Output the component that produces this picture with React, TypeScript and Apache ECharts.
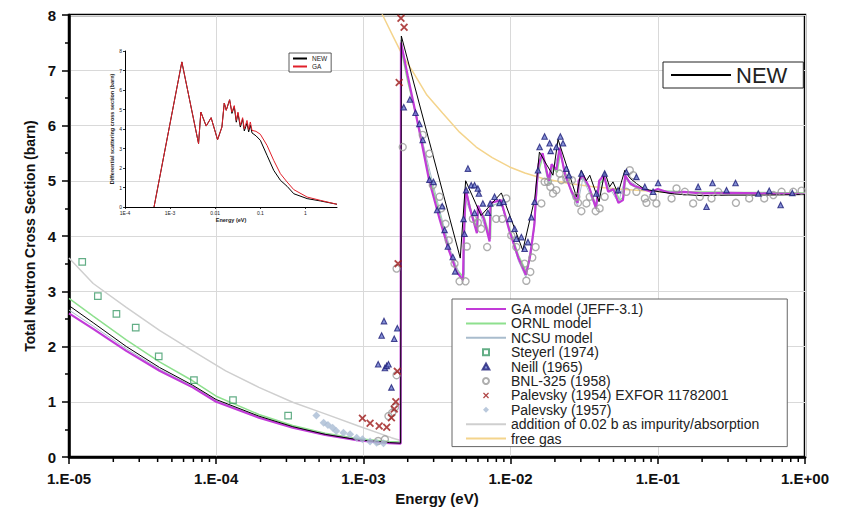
import React, { useEffect, useRef } from "react";
import * as echarts from "echarts";

type P = [number, number];

// ---------- main chart tick labels ----------
const X_TICK_LABELS = ["1.E-05", "1.E-04", "1.E-03", "1.E-02", "1.E-01", "1.E+00"];
const INSET_X_LABELS = ["1E-4", "1E-3", "0.01", "0.1", "1"];

// ---------- model curves (E in eV, sigma in barn) ----------
const GA_MODEL: P[] = [
  [1e-5, 2.6], [1.46e-5, 2.32], [2.45e-5, 1.92], [4.12e-5, 1.56], [6.92e-5, 1.26], [1e-4, 1.0],
  [1.95e-4, 0.71], [3.31e-4, 0.53], [5.5e-4, 0.4], [9.25e-4, 0.3], [1.5e-3, 0.25], [1.79e-3, 0.24],
  [1.8e-3, 7.5], [2.0e-3, 6.9], [2.4e-3, 5.9], [2.8e-3, 5.0], [3.3e-3, 4.3], [3.8e-3, 3.75],
  [4.3e-3, 3.35], [4.75e-3, 3.2], [4.8e-3, 3.9], [4.95e-3, 4.85], [5.3e-3, 4.5], [5.9e-3, 4.05],
  [6.0e-3, 4.55], [6.6e-3, 4.3], [7.2e-3, 3.9], [7.3e-3, 4.6], [8.6e-3, 4.65], [9.8e-3, 4.1],
  [0.0113, 3.6], [0.0127, 3.3], [0.0135, 3.6], [0.0145, 4.2], [0.015, 4.9], [0.0155, 5.3],
  [0.0165, 5.5], [0.0175, 5.2], [0.0182, 5.0], [0.019, 5.3], [0.0205, 5.2], [0.0215, 5.6],
  [0.0235, 5.1], [0.026, 4.8], [0.0285, 4.6], [0.029, 5.0], [0.031, 5.1], [0.034, 4.9],
  [0.037, 4.6], [0.038, 4.5], [0.04, 5.0], [0.043, 5.1], [0.046, 4.8], [0.05, 4.85],
  [0.054, 4.6], [0.058, 4.65], [0.06, 5.1], [0.065, 4.95], [0.07, 4.9], [0.08, 4.85],
  [0.09, 4.8], [0.1, 4.85], [0.12, 4.78], [0.15, 4.8], [0.2, 4.77], [0.3, 4.78], [0.5, 4.77], [1, 4.76],
];

const ORNL_MODEL: P[] = [
  [1e-5, 2.87], [1.46e-5, 2.55], [2.45e-5, 2.12], [4.12e-5, 1.72], [6.92e-5, 1.38], [1e-4, 1.1],
  [1.95e-4, 0.77], [3.31e-4, 0.57], [5.5e-4, 0.43], [9.25e-4, 0.33], [1.5e-3, 0.28], [1.79e-3, 0.27],
  [1.8e-3, 7.4], [2.0e-3, 6.8], [2.4e-3, 5.95], [2.8e-3, 5.1], [3.3e-3, 4.4], [3.8e-3, 3.8],
  [4.3e-3, 3.4], [4.8e-3, 3.25], [4.85e-3, 4.1], [5.0e-3, 4.8], [5.4e-3, 4.45], [5.95e-3, 4.1],
  [6.05e-3, 4.5], [6.6e-3, 4.35], [7.3e-3, 3.95], [7.4e-3, 4.55], [8.6e-3, 4.6], [9.8e-3, 4.15],
  [0.0113, 3.65], [0.0128, 3.35], [0.0138, 3.7], [0.0146, 4.3], [0.0152, 5.0], [0.0158, 5.25],
  [0.0166, 5.45], [0.0176, 5.1], [0.0184, 4.95], [0.0192, 5.25], [0.0207, 5.15], [0.0218, 5.5],
  [0.0238, 5.05], [0.0262, 4.8], [0.0287, 4.65], [0.0292, 5.0], [0.031, 5.05], [0.0345, 4.85],
  [0.038, 4.55], [0.0405, 4.95], [0.0435, 5.05], [0.047, 4.8], [0.051, 4.85], [0.055, 4.65],
  [0.0585, 4.7], [0.0605, 5.05], [0.066, 4.92], [0.072, 4.88], [0.082, 4.83], [0.1, 4.82],
  [0.15, 4.8], [0.3, 4.79], [1, 4.78],
];

const NCSU_MODEL: P[] = [
  [1e-5, 2.66], [1.46e-5, 2.37], [2.45e-5, 1.96], [4.12e-5, 1.59], [6.92e-5, 1.28], [1e-4, 1.02],
  [1.95e-4, 0.72], [3.31e-4, 0.54], [5.5e-4, 0.41], [9.25e-4, 0.31], [1.79e-3, 0.25],
  [1.8e-3, 7.55], [2.1e-3, 6.6], [2.5e-3, 5.75], [3.0e-3, 4.9], [3.5e-3, 4.2], [4.0e-3, 3.65],
  [4.6e-3, 3.25], [4.85e-3, 3.3], [4.9e-3, 4.7], [5.3e-3, 4.45], [5.9e-3, 4.1], [6.0e-3, 4.5],
  [7.2e-3, 3.95], [7.3e-3, 4.55], [8.6e-3, 4.6], [0.0113, 3.55], [0.0127, 3.25], [0.0145, 4.15],
  [0.0155, 5.25], [0.0165, 5.45], [0.0182, 4.95], [0.0215, 5.55], [0.026, 4.75], [0.0285, 4.55],
  [0.031, 5.05], [0.038, 4.5], [0.043, 5.05], [0.054, 4.6], [0.06, 5.05], [0.08, 4.83],
  [0.15, 4.79], [1, 4.76],
];

const NEW_MODEL: P[] = [
  [1e-5, 2.74], [1.46e-5, 2.43], [2.45e-5, 2.0], [4.12e-5, 1.62], [6.92e-5, 1.3], [1e-4, 1.04],
  [1.95e-4, 0.74], [3.31e-4, 0.55], [5.5e-4, 0.41], [9.25e-4, 0.31], [1.5e-3, 0.26], [1.79e-3, 0.25],
  [1.81e-3, 7.62], [4.55e-3, 3.6], [4.95e-3, 5.0], [6.3e-3, 4.37], [8.65e-3, 4.78], [0.0121, 3.74],
  [0.0146, 4.68], [0.0157, 5.52], [0.0175, 5.3], [0.0194, 5.1], [0.021, 5.75], [0.0245, 5.2],
  [0.028, 4.71], [0.0302, 5.19], [0.0327, 5.0], [0.0345, 5.1], [0.0399, 4.62], [0.0436, 5.16],
  [0.0471, 4.89], [0.0496, 4.98], [0.0537, 4.77], [0.0597, 5.19], [0.0645, 5.05], [0.0716, 4.95],
  [0.08, 4.86], [0.088, 4.83], [0.103, 4.8], [0.13, 4.76], [0.2, 4.73], [0.3, 4.74], [0.5, 4.74], [1, 4.75],
];

const IMPURITY_ADDITION: P[] = [
  [1e-5, 3.6], [1.46e-5, 3.14], [2.45e-5, 2.71], [4.12e-5, 2.29], [6.92e-5, 1.92], [1.16e-4, 1.56],
  [1.95e-4, 1.26], [3.31e-4, 0.99], [5.5e-4, 0.78], [9.25e-4, 0.56], [1.55e-3, 0.35], [1.79e-3, 0.3],
];

const FREE_GAS: P[] = [
  [1.1e-3, 8.7], [1.35e-3, 8.0], [1.6e-3, 7.6], [1.86e-3, 7.25], [2.17e-3, 6.97], [2.7e-3, 6.55],
  [3.46e-3, 6.22], [4.5e-3, 5.88], [5.84e-3, 5.61], [7.5e-3, 5.42], [9.84e-3, 5.25], [0.0125, 5.14],
  [0.0166, 5.04], [0.025, 4.95], [0.0363, 4.89], [0.06, 4.84], [0.103, 4.8], [0.3, 4.78], [1, 4.77],
];

// ---------- measurements ----------
const STEYERL_1974: P[] = [
  [1.23e-5, 3.53], [1.57e-5, 2.91], [2.1e-5, 2.59], [2.84e-5, 2.34], [4.07e-5, 1.82],
  [7.06e-5, 1.39], [1.3e-4, 1.03], [3.08e-4, 0.75],
];

const NEILL_1965: P[] = [
  [1.26e-3, 1.68], [1.33e-3, 2.2], [1.38e-3, 2.46], [1.4e-3, 1.61], [1.44e-3, 1.65], [1.48e-3, 1.68],
  [1.55e-3, 1.26], [1.62e-3, 2.14], [1.7e-3, 2.33],
  [1.88e-3, 6.33], [2.07e-3, 6.47], [2.26e-3, 6.23], [2.4e-3, 6.03], [2.53e-3, 5.74], [2.81e-3, 5.02],
  [2.99e-3, 4.98], [3.17e-3, 4.47], [3.43e-3, 4.54], [3.56e-3, 4.11], [3.75e-3, 3.81], [4.05e-3, 3.62],
  [4.2e-3, 3.36], [4.79e-3, 4.31], [4.86e-3, 4.04], [4.99e-3, 4.83], [5.13e-3, 5.22], [5.4e-3, 4.92],
  [5.69e-3, 4.92], [5.99e-3, 4.86], [6.09e-3, 4.77], [5.69e-3, 4.42], [6.48e-3, 4.59], [7.01e-3, 4.42],
  [7.27e-3, 4.59], [7.78e-3, 4.71], [8.41e-3, 4.6], [8.96e-3, 4.62], [9.84e-3, 4.31], [0.01065, 4.13],
  [0.01094, 3.95], [0.01183, 3.98], [0.01245, 3.77], [0.01312, 3.89], [0.01383, 4.34], [0.01456, 4.62],
  [0.01535, 5.19], [0.01574, 5.61], [0.01702, 5.8], [0.01841, 5.68], [0.01871, 5.54], [0.02045, 5.61],
  [0.02178, 5.8], [0.0227, 5.68], [0.02392, 5.22], [0.02495, 5.1], [0.03025, 5.13], [0.03826, 4.77],
  [0.04355, 5.13], [0.0537, 4.83], [0.0612, 5.16], [0.0716, 5.07], [0.08163, 4.89], [0.0929, 4.8],
  [0.1005, 4.96], [0.1879, 4.89], [0.2143, 4.53], [0.2353, 4.96], [0.293, 4.83], [0.3373, 4.96],
  [0.4816, 4.77], [0.5715, 4.82], [0.683, 4.56], [0.8199, 4.78],
];

const BNL_325_1958: P[] = [
  [1.26e-3, 0.29], [1.4e-3, 0.32], [1.48e-3, 0.74], [1.57e-3, 0.8], [1.64e-3, 0.9], [1.68e-3, 1.48],
  [1.68e-3, 3.41], [1.85e-3, 5.61], [2.53e-3, 5.83], [2.81e-3, 5.49], [2.96e-3, 4.92], [3.29e-3, 4.71],
  [3.37e-3, 4.5], [3.61e-3, 4.22], [3.8e-3, 3.92], [4.16e-3, 3.5], [4.5e-3, 3.18], [4.94e-3, 3.18],
  [5.04e-3, 3.81], [5.54e-3, 4.31], [5.99e-3, 4.24], [6.31e-3, 4.13], [6.93e-3, 3.8], [7.98e-3, 4.31],
  [8.77e-3, 4.31], [9.35e-3, 4.68], [0.0101, 4.01], [0.01094, 3.8], [0.01245, 3.5], [0.01279, 3.19],
  [0.01361, 3.35], [0.01404, 3.61], [0.01479, 3.8], [0.01618, 4.59], [0.01702, 4.98], [0.01795, 4.98],
  [0.01862, 4.89], [0.01941, 4.77], [0.02045, 4.83], [0.02155, 5.13], [0.02213, 5.01], [0.02392, 5.04],
  [0.02612, 5.01], [0.02797, 4.71], [0.02871, 4.6], [0.03025, 4.45], [0.03272, 4.59], [0.03447, 4.71],
  [0.03784, 4.45], [0.04027, 4.5], [0.04355, 4.71], [0.0612, 4.8], [0.06452, 5.19], [0.06797, 5.1],
  [0.0716, 4.8], [0.08163, 4.68], [0.08375, 4.6], [0.0929, 4.71], [0.0979, 4.59], [0.124, 4.68],
  [0.134, 4.86], [0.1527, 4.8], [0.1738, 4.59], [0.193, 4.71], [0.2317, 4.68], [0.2572, 4.8],
  [0.3394, 4.6], [0.4178, 4.68], [0.5285, 4.68], [0.6093, 4.74], [0.6934, 4.8], [0.8329, 4.8], [0.9485, 4.82],
];

const PALEVSKY_1954: P[] = [
  [9.85e-4, 0.7], [1.11e-3, 0.61], [1.28e-3, 0.56], [1.44e-3, 0.54], [1.55e-3, 0.71], [1.62e-3, 0.87],
  [1.66e-3, 1.0], [1.7e-3, 1.55], [1.72e-3, 3.5], [1.75e-3, 6.78], [1.8e-3, 7.94], [1.89e-3, 7.78],
];

const PALEVSKY_1957: P[] = [
  [4.79e-4, 0.75], [5.37e-4, 0.62], [5.74e-4, 0.58], [6.18e-4, 0.53], [6.54e-4, 0.47], [7.32e-4, 0.44],
  [8.12e-4, 0.41], [9.0e-4, 0.35], [9.85e-4, 0.32], [1.11e-3, 0.28], [1.23e-3, 0.26], [1.37e-3, 0.25],
];

// ---------- inset: differential scattering cross section ----------
const INSET_NEW: P[] = [
  [4.4e-4, 0], [1.82e-3, 7.44], [4.27e-3, 3.25], [4.8e-3, 4.87], [6.3e-3, 4.15], [8.1e-3, 4.58],
  [0.01127, 3.45], [0.01406, 4.1], [0.01585, 5.33], [0.01755, 4.96], [0.02084, 5.5], [0.02345, 4.8],
  [0.02642, 5.15], [0.0293, 4.35], [0.0319, 4.8], [0.036, 4.1], [0.0405, 4.5], [0.0441, 3.9],
  [0.0506, 4.3], [0.0551, 3.85], [0.06, 4.2], [0.0653, 3.8], [0.08, 3.65], [0.1, 3.42],
  [0.1406, 2.65], [0.198, 1.88], [0.278, 1.37], [0.392, 1.06], [0.551, 0.68], [1.09, 0.43],
  [2.15, 0.31], [5.0, 0.14],
];

const INSET_GA: P[] = [
  [4.4e-4, 0], [1.82e-3, 7.44], [4.27e-3, 3.25], [4.8e-3, 4.87], [6.3e-3, 4.15], [8.1e-3, 4.58],
  [0.01127, 3.45], [0.01406, 4.1], [0.01585, 5.33], [0.01755, 4.96], [0.02084, 5.5], [0.02345, 4.87],
  [0.02642, 5.2], [0.0293, 4.44], [0.0319, 4.87], [0.036, 4.19], [0.0405, 4.58], [0.0441, 4.0],
  [0.0506, 4.44], [0.0551, 3.97], [0.06, 4.36], [0.0653, 3.93], [0.08, 3.88], [0.1, 3.73],
  [0.1406, 3.16], [0.198, 2.39], [0.278, 1.71], [0.392, 1.28], [0.551, 0.89], [1.09, 0.51],
  [2.15, 0.34], [5.0, 0.14],
];

const LINE_NAMES = [
  "GA model (JEFF-3.1)",
  "ORNL model",
  "NCSU model",
  "addition of 0.02 b as impurity/absorption",
  "free gas",
  "NEW",
  "GA",
];
const MAIN_LEGEND = [
  "GA model (JEFF-3.1)",
  "ORNL model",
  "NCSU model",
  "Steyerl (1974)",
  "Neill (1965)",
  "BNL-325 (1958)",
  "Palevsky (1954) EXFOR 11782001",
  "Palevsky (1957)",
  "addition of 0.02 b as impurity/absorption",
  "free gas",
];

const X_MARK =
  "path://M0,1.6 L1.6,0 L5,3.4 L8.4,0 L10,1.6 L6.6,5 L10,8.4 L8.4,10 L5,6.6 L1.6,10 L0,8.4 L3.4,5 Z";
const SQUARE = "path://M0,0 L10,0 L10,10 L0,10 Z";
const TRIANGLE = "path://M5,0 L10,9 L0,9 Z";
const DIAMOND = "path://M5,0 L10,5 L5,10 L0,5 Z";

const FONT = "Liberation Sans, Arial, sans-serif";

function minorTickValues(): number[] {
  const out: number[] = [];
  for (let e = -5; e < 0; e++) for (let k = 2; k <= 9; k++) out.push(k * Math.pow(10, e));
  return out;
}

function mainXLabel(v: number): string {
  const i = Math.round(Math.log10(v)) + 5;
  return X_TICK_LABELS[i] ?? "";
}
function insetXLabel(v: number): string {
  const i = Math.round(Math.log10(v)) + 4;
  if (Math.abs(Math.log10(v) - Math.round(Math.log10(v))) > 1e-6) return "";
  return INSET_X_LABELS[i] ?? "";
}

function legendItems(names: string[]) {
  return names.map((n) =>
    LINE_NAMES.includes(n) ? { name: n, itemStyle: { opacity: 0 } } : { name: n }
  );
}

function lineSeries(name: string, data: P[], color: string, width: number, z = 2, xi = 0) {
  return {
    name,
    type: "line",
    xAxisIndex: xi,
    yAxisIndex: xi,
    data,
    symbol: "none",
    showSymbol: false,
    z,
    lineStyle: { color, width },
    itemStyle: { color },
  };
}

export default function App() {
  const ref = useRef<HTMLDivElement>(null);
  useEffect(() => {
    const chart = echarts.init(ref.current!, null, { renderer: "svg" });
    const option: any = {
      animation: false,
      backgroundColor: "#fff",
      textStyle: { fontFamily: FONT },
      grid: [
        { left: 69, right: 39, top: 15, bottom: 59, show: true, borderColor: "#000", borderWidth: 2.5, backgroundColor: "transparent" },
        { left: 125, top: 51, width: 212, height: 156, show: false },
      ],
      xAxis: [
        {
          type: "log",
          logBase: 10,
          min: 1e-5,
          max: 1,
          gridIndex: 0,
          name: "Energy (eV)",
          nameLocation: "middle",
          nameGap: 26,
          nameTextStyle: { fontSize: 15, fontWeight: "bold", color: "#111", fontFamily: FONT },
          axisLine: { lineStyle: { color: "#000", width: 2.5 } },
          axisTick: { length: 7, lineStyle: { color: "#000", width: 1.5 } },
          axisLabel: { formatter: mainXLabel, fontSize: 15, fontWeight: "bold", color: "#111", margin: 14, fontFamily: FONT },
          splitLine: { show: true, lineStyle: { color: "#d9d9d9", width: 1 } },
        },
        {
          type: "log",
          logBase: 10,
          min: 1e-4,
          max: 5,
          gridIndex: 1,
          name: "Energy (eV)",
          nameLocation: "middle",
          nameGap: 10,
          nameTextStyle: { fontSize: 5.5, fontWeight: "bold", color: "#222" },
          axisLine: { lineStyle: { color: "#000", width: 1 } },
          axisTick: { length: 2, lineStyle: { color: "#000", width: 0.8 } },
          axisLabel: { formatter: insetXLabel, fontSize: 5, color: "#222", margin: 3, showMaxLabel: false },
          splitLine: { show: false },
        },
      ],
      yAxis: [
        {
          type: "value",
          min: 0,
          max: 8,
          interval: 1,
          gridIndex: 0,
          name: "Total Neutron Cross Section (barn)",
          nameLocation: "middle",
          nameGap: 31,
          nameTextStyle: { fontSize: 14, fontWeight: "bold", color: "#111", fontFamily: FONT },
          axisLine: { show: true, lineStyle: { color: "#000", width: 2.5 } },
          axisTick: { show: true, length: 7, lineStyle: { color: "#000", width: 1.5 } },
          minorTick: { show: true, splitNumber: 2, length: 4, lineStyle: { color: "#000", width: 1.5 } },
          axisLabel: { fontSize: 15, fontWeight: "bold", color: "#111", margin: 13, fontFamily: FONT },
          splitLine: { show: true, lineStyle: { color: "#d9d9d9", width: 1 } },
        },
        {
          type: "value",
          min: 0,
          max: 8,
          interval: 1,
          gridIndex: 1,
          name: "Differential scattering cross section (barn)",
          nameLocation: "middle",
          nameGap: 10,
          nameTextStyle: { fontSize: 5.5, fontWeight: "bold", color: "#222" },
          axisLine: { show: true, lineStyle: { color: "#000", width: 1 } },
          axisTick: { show: true, length: 2, lineStyle: { color: "#000", width: 0.8 } },
          axisLabel: { fontSize: 5, color: "#222", margin: 3 },
          splitLine: { show: false },
        },
      ],
      legend: [
        {
          data: legendItems(MAIN_LEGEND),
          orient: "vertical",
          left: 452,
          top: 299,
          padding: [3, 28, 1, 13],
          itemGap: 0.4,
          itemWidth: 40,
          itemHeight: 6,
          backgroundColor: "#fff",
          borderColor: "#666",
          borderWidth: 1,
          selectedMode: false,
          textStyle: { fontSize: 14, color: "#222", lineHeight: 14, fontFamily: FONT },
        },
        {
          data: legendItems(["NEW"]),
          left: 663,
          top: 62,
          padding: [1, 16, 1, 7],
          itemWidth: 60,
          itemHeight: 8,
          backgroundColor: "#fff",
          borderColor: "#222",
          borderWidth: 1,
          selectedMode: false,
          textStyle: { fontSize: 22, color: "#222", fontFamily: FONT, lineHeight: 24 },
        },
        {
          data: legendItems(["NEW", "GA"]),
          orient: "vertical",
          left: 289,
          top: 53,
          padding: [2, 4, 2, 3],
          itemGap: 1,
          itemWidth: 14,
          itemHeight: 5,
          backgroundColor: "#fff",
          borderColor: "#333",
          borderWidth: 0.8,
          selectedMode: false,
          textStyle: { fontSize: 6.5, color: "#222", lineHeight: 7 },
        },
      ],
      series: [
        lineSeries("addition of 0.02 b as impurity/absorption", IMPURITY_ADDITION, "#cfcfcf", 1.5, 2),
        lineSeries("free gas", FREE_GAS, "#f4d48c", 1.5, 2),
        lineSeries("ORNL model", ORNL_MODEL, "#8ee08e", 1.5, 3),
        lineSeries("NCSU model", NCSU_MODEL, "#a9bccd", 1, 3),
        lineSeries("GA model (JEFF-3.1)", GA_MODEL, "#c23ad8", 2.2, 4),
        lineSeries("NEW", NEW_MODEL, "#000000", 1, 5),
        {
          name: "Steyerl (1974)",
          type: "scatter",
          data: STEYERL_1974,
          symbol: SQUARE,
          symbolSize: 6.5,
          z: 6,
          itemStyle: { color: "rgba(255,255,255,0)", borderColor: "#3c9a68", borderWidth: 1.2 },
        },
        {
          name: "Neill (1965)",
          type: "scatter",
          data: NEILL_1965,
          symbol: TRIANGLE,
          symbolSize: 5.5,
          z: 7,
          itemStyle: { color: "#6676cc", borderColor: "#1e1e78", borderWidth: 1.1 },
        },
        {
          name: "BNL-325 (1958)",
          type: "scatter",
          data: BNL_325_1958,
          symbol: "circle",
          symbolSize: 7,
          z: 6,
          itemStyle: { color: "rgba(255,255,255,0)", borderColor: "#9a9a9a", borderWidth: 1.4 },
        },
        {
          name: "Palevsky (1954) EXFOR 11782001",
          type: "scatter",
          data: PALEVSKY_1954,
          symbol: X_MARK,
          symbolSize: 8,
          z: 8,
          itemStyle: { color: "#9c1818" },
        },
        {
          name: "Palevsky (1957)",
          type: "scatter",
          data: PALEVSKY_1957,
          symbol: DIAMOND,
          symbolSize: 8,
          z: 6,
          itemStyle: { color: "#a9bcd3" },
        },
        {
          name: "x-minor-ticks",
          type: "custom",
          xAxisIndex: 0,
          yAxisIndex: 0,
          silent: true,
          clip: false,
          z: 10,
          data: minorTickValues().map((v) => [v, 0]),
          renderItem: (_p: any, api: any) => {
            const pt = api.coord([api.value(0), 0]);
            return {
              type: "line",
              shape: { x1: pt[0], y1: pt[1], x2: pt[0], y2: pt[1] + 5 },
              style: { stroke: "#000", lineWidth: 1.5 },
            };
          },
        },
        lineSeries("NEW", INSET_NEW, "#000000", 1, 3, 1),
        lineSeries("GA", INSET_GA, "#e0202a", 1, 4, 1),
      ],
    };
    chart.setOption(option);
    return () => chart.dispose();
  }, []);
  return (
    <div
      ref={ref}
      style={{ position: "fixed", left: 0, top: 0, width: 844, height: 516 }}
    />
  );
}
